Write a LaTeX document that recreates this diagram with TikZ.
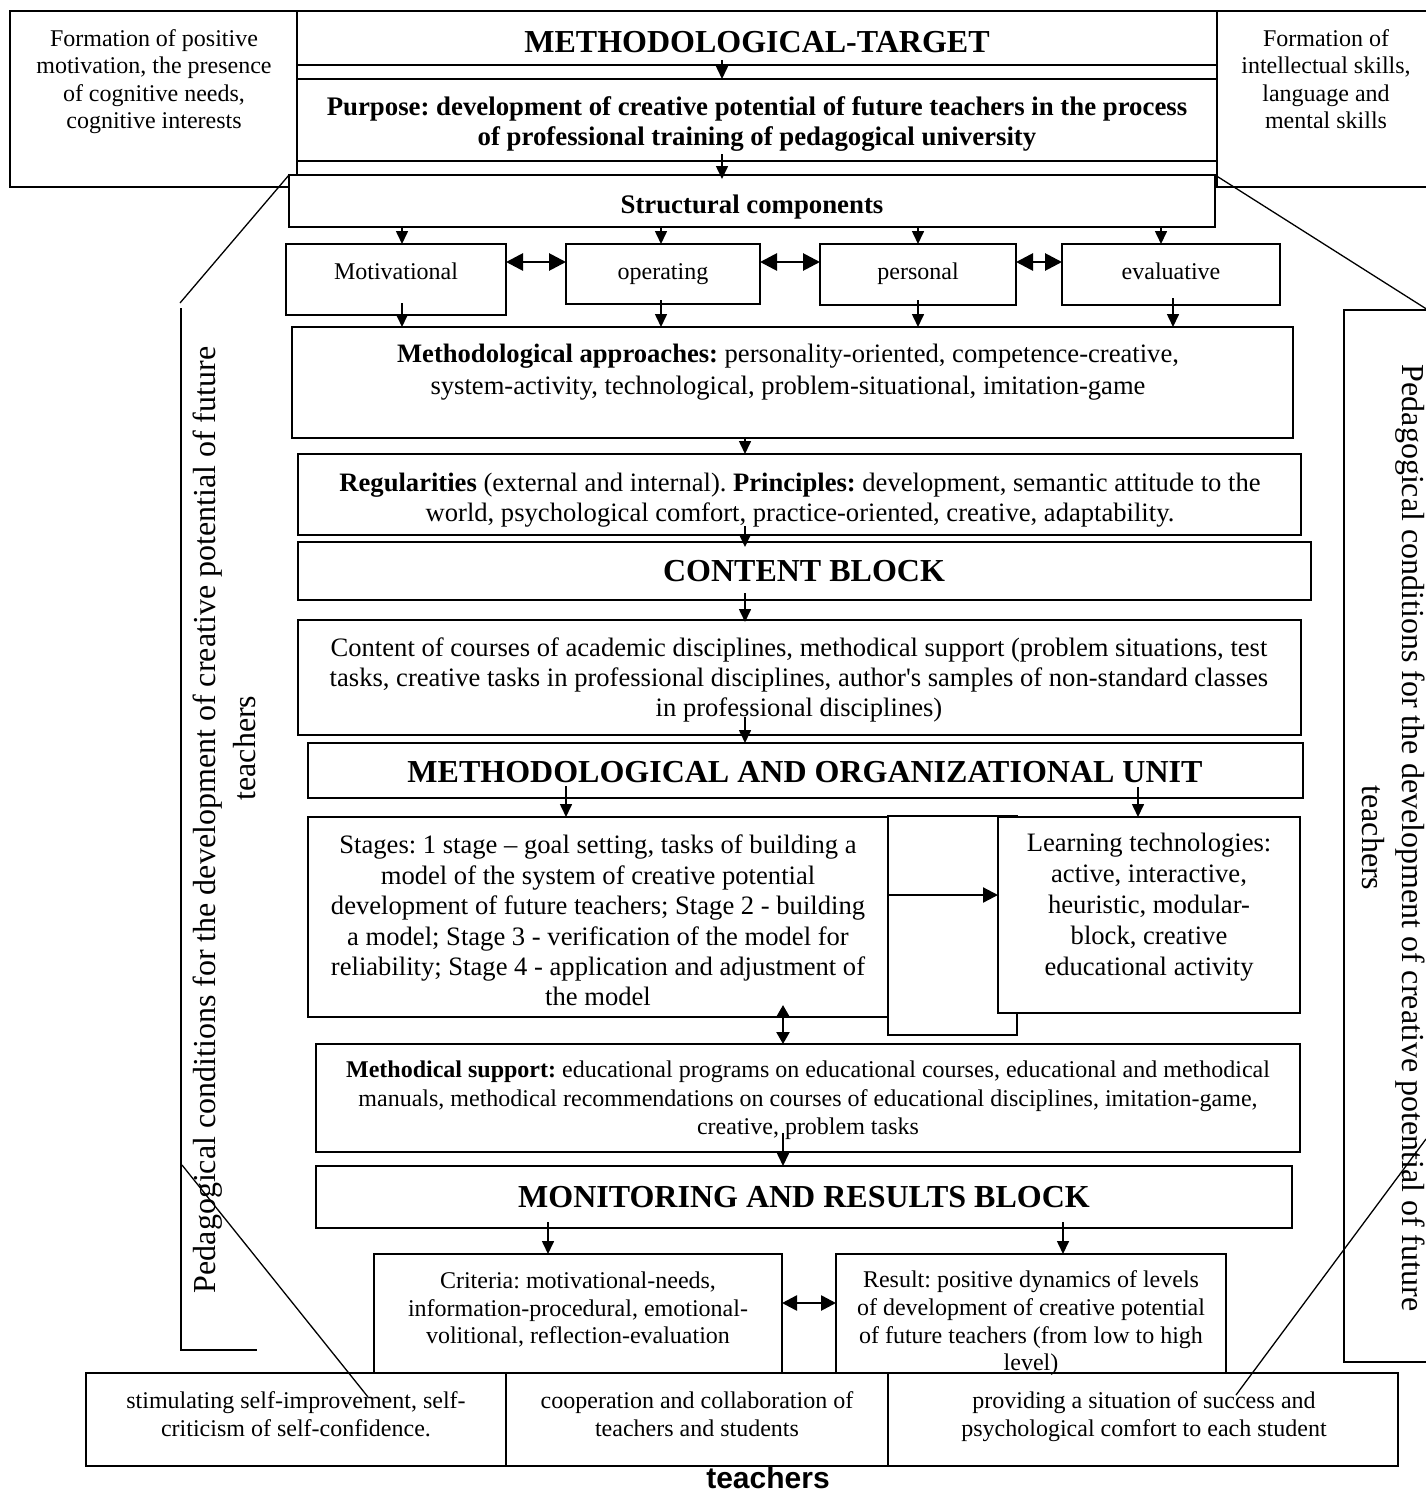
\documentclass[tikz,border=0pt]{standalone}
\usepackage{fontspec}
\setmainfont{Liberation Serif}
\newfontfamily\rawserif{Liberation Serif}[Ligatures=TeXOff]
\newfontfamily\arialfont{Liberation Sans}
\usetikzlibrary{arrows.meta,calc}
\frenchspacing
\tikzset{
  bx/.style={draw, fill=white, line width=1.6pt, inner sep=0pt, outer sep=0pt, anchor=north west},
  txt/.style={align=center, inner sep=0pt, yshift=-4pt, font=\fontsize{26.6}{30.4}\selectfont, execute at begin node=\strut, execute at end node=\strut},
  stxt/.style={align=center, inner sep=0pt, yshift=-4pt, font=\fontsize{24}{28}\selectfont, execute at begin node=\strut, execute at end node=\strut},
  ttl/.style={inner sep=0pt, font=\fontsize{32}{36}\selectfont\bfseries},
  rot/.style={inner sep=0pt, font=\fontsize{32}{37}\selectfont},
  arr/.style={-{Triangle[length=13pt,width=12pt]}, line width=1.6pt},
  dbl/.style={{Triangle[length=17pt,width=17pt]}-{Triangle[length=17pt,width=17pt]}, line width=2.8pt},
  dbs/.style={{Triangle[length=12pt,width=13pt]}-{Triangle[length=12pt,width=13pt]}, line width=2.4pt},
  dbm/.style={{Triangle[length=15pt,width=15pt]}-{Triangle[length=15pt,width=15pt]}, line width=2.6pt},
  arw/.style={-{Triangle[length=15pt,width=15pt]}, line width=2.2pt},
  ln/.style={line width=1.5pt},
  dg/.style={line width=1.3pt},
}
\begin{document}
\begin{tikzpicture}[x=1pt,y=-1pt]
\useasboundingbox (0,0) rectangle (1426,1493);

% ---------- side callouts (lines) ----------
\coordinate (slTop) at (181,308);
\coordinate (slBot) at (181,1350);
\coordinate (slEnd) at (257,1350);
\draw[ln] (slTop) -- (slBot) -- (slEnd);
\coordinate (srA) at (1428,310);
\coordinate (srB) at (1344,310);
\coordinate (srC) at (1344,1362);
\coordinate (srD) at (1428,1362);
\draw[ln] (srA) -- (srB) -- (srC) -- (srD);

% ---------- boxes ----------
\node[bx, minimum width=287pt, minimum height=176pt] (LT) at (10,11) {};
\node[bx, minimum width=212pt, minimum height=176pt] (RT) at (1217,11) {};
\node[bx, minimum width=920pt, minimum height=54pt] (MT) at (297,11) {};
\node[bx, minimum width=920pt, minimum height=82pt] (PU) at (297,79) {};
\node[bx, minimum width=926pt, minimum height=52pt] (SC) at (289,175) {};
\node[bx, minimum width=220pt, minimum height=71pt] (MO) at (286,244) {};
\node[bx, minimum width=194pt, minimum height=60pt] (OP) at (566,244) {};
\node[bx, minimum width=196pt, minimum height=61pt] (PE) at (820,244) {};
\node[bx, minimum width=218pt, minimum height=61pt] (EV) at (1062,244) {};
\node[bx, minimum width=1001pt, minimum height=111pt] (MA) at (292,327) {};
\node[bx, minimum width=1003pt, minimum height=81pt] (RG) at (298,454) {};
\node[bx, minimum width=1013pt, minimum height=58pt] (CB) at (298,542) {};
\node[bx, minimum width=1003pt, minimum height=115pt] (CT) at (298,620) {};
\node[bx, minimum width=995pt, minimum height=55pt] (MU) at (308,743) {};
\node[bx, minimum width=129pt, minimum height=219pt] (MB) at (888,816) {};
\node[bx, minimum width=580pt, minimum height=200pt] (ST) at (308,817) {};
\node[bx, minimum width=302pt, minimum height=196pt] (LG) at (998,817) {};
\node[bx, minimum width=984pt, minimum height=108pt] (MS) at (316,1044) {};
\node[bx, minimum width=976pt, minimum height=62pt] (MR) at (316,1166) {};
\node[bx, minimum width=408pt, minimum height=119pt] (CR) at (374,1254) {};
\node[bx, minimum width=390pt, minimum height=119pt] (RS) at (836,1254) {};
\node[bx, minimum width=420pt, minimum height=93pt] (B1) at (86,1373) {};
\node[bx, minimum width=382pt, minimum height=93pt] (B2) at (506,1373) {};
\node[bx, minimum width=510pt, minimum height=93pt] (B3) at (888,1373) {};

% ---------- texts ----------
\node[stxt, font=\fontsize{24}{27.4}\selectfont] (LTt) at (154,79) {Formation of positive\\motivation, the presence\\of cognitive needs,\\cognitive interests};
\node[stxt, font=\fontsize{24}{27.4}\selectfont] (RTt) at (1326,79) {Formation of\\intellectual skills,\\language and\\mental skills};
\node[ttl] (MTt) at (757,42) {METHODOLOGICAL-TARGET};
\node[txt, font=\fontsize{26.8}{30}\selectfont\bfseries] (PUt) at (757,122) {Purpose: development of creative potential of future teachers in the process\\of professional training of pedagogical university};
\node[txt, font=\fontsize{26.8}{30}\selectfont\bfseries] (SCt) at (752,203) {Structural components};
\node[stxt] (MOt) at (396,270) {Motivational};
\node[stxt] (OPt) at (663,270) {operating};
\node[stxt] (PEt) at (918,270) {personal};
\node[stxt] (EVt) at (1171,270) {evaluative};
\node[txt, font=\fontsize{26.6}{32}\selectfont] (MAt) at (788,370) {\textbf{Methodological approaches:} personality-oriented, competence-creative,\\system-activity, technological, problem-situational, imitation-game};
\node[txt, font=\fontsize{26.6}{30}\selectfont] (RGt) at (800,498) {\textbf{Regularities} (external and internal). \textbf{Principles:} development, semantic attitude to the\\world, psychological comfort, practice-oriented, creative, adaptability.};
\node[ttl] (CBt) at (804,571) {CONTENT BLOCK};
\node[txt, font=\fontsize{26.6}{30}\selectfont] (CTt) at (799,678) {Content of courses of academic disciplines, methodical support (problem situations, test\\tasks, creative tasks in professional disciplines, author{\rawserif'}s samples of non-standard classes\\in professional disciplines)};
\node[ttl] (MUt) at (805,772) {METHODOLOGICAL AND ORGANIZATIONAL UNIT};
\node[txt] (STt) at (598,921) {Stages: 1 stage – goal setting, tasks of building a\\model of the system of creative potential\\development of future teachers; Stage 2 - building\\a model; Stage 3 - verification of the model for\\reliability; Stage 4 - application and adjustment of\\the model};
\node[txt, font=\fontsize{26.6}{31}\selectfont] (LGt) at (1149,905) {Learning technologies:\\active, interactive,\\heuristic, modular-\\block, creative\\educational activity};
\node[stxt, font=\fontsize{24}{28.5}\selectfont] (MSt) at (808,1098) {\textbf{Methodical support:} educational programs on educational courses, educational and methodical\\manuals, methodical recommendations on courses of educational disciplines, imitation-game,\\creative, problem tasks};
\node[ttl] (MRt) at (804,1197) {MONITORING AND RESULTS BLOCK};
\node[stxt, font=\fontsize{24}{27.5}\selectfont] (CRt) at (578,1308) {Criteria: motivational-needs,\\information-procedural, emotional-\\volitional, reflection-evaluation};
\node[stxt, font=\fontsize{24}{27.7}\selectfont] (RSt) at (1031,1321) {Result: positive dynamics of levels\\of development of creative potential\\of future teachers (from low to high\\level)};
\node[stxt] (B1t) at (296,1414) {stimulating self-improvement, self-\\criticism of self-confidence.};
\node[stxt] (B2t) at (697,1414) {cooperation and collaboration of\\teachers and students};
\node[stxt] (B3t) at (1144,1414) {providing a situation of success and\\psychological comfort to each student};
\node[rot, rotate=90] (SLa) at (208,820) {Pedagogical conditions for the development of creative potential of future};
\node[rot, rotate=90] (SLb) at (245,748) {teachers};
\node[rot, rotate=-90] (SRa) at (1410,838) {Pedagogical conditions for the development of creative potential of future};
\node[rot, rotate=-90] (SRb) at (1373,838) {teachers};
\node[inner sep=0pt, font=\arialfont\bfseries\fontsize{30}{34}\selectfont] (BT) at (768,1478) {teachers};

% ---------- arrow positions ----------
\coordinate (a722) at (722,0);
\coordinate (a402) at (402,0);
\coordinate (a661) at (661,0);
\coordinate (a918) at (918,0);
\coordinate (a1161) at (1161,0);
\coordinate (a1173) at (1173,0);
\coordinate (a745) at (745,0);
\coordinate (a566) at (566,0);
\coordinate (a1138) at (1138,0);
\coordinate (a783) at (783,0);
\coordinate (a548) at (548,0);
\coordinate (a1063) at (1063,0);
\coordinate (r262) at (0,262);
\coordinate (r895) at (0,895);
\coordinate (r1303) at (0,1303);

% ---------- connectors ----------
\draw[arr] ($(MT.south -| a722)+(0,-5)$) -- (PU.north -| a722);
\draw[arr] ($(PU.south -| a722)+(0,-7)$) -- ($(SC.north -| a722)+(0,4)$);
\draw[arr] (SC.south -| a402) -- (MO.north -| a402);
\draw[arr] (SC.south -| a661) -- (OP.north -| a661);
\draw[arr] (SC.south -| a918) -- (PE.north -| a918);
\draw[arr] (SC.south -| a1161) -- (EV.north -| a1161);
\draw[dbl] (MO.east |- r262) -- (OP.west |- r262);
\draw[dbl] (OP.east |- r262) -- (PE.west |- r262);
\draw[dbl] (PE.east |- r262) -- (EV.west |- r262);
\draw[arr] ($(MO.south -| a402)+(0,-12)$) -- (MA.north -| a402);
\draw[arr] ($(OP.south -| a661)+(0,-4)$) -- (MA.north -| a661);
\draw[arr] ($(PE.south -| a918)+(0,-5)$) -- (MA.north -| a918);
\draw[arr] ($(EV.south -| a1173)+(0,-7)$) -- (MA.north -| a1173);
\draw[arr] (MA.south -| a745) -- (RG.north -| a745);
\draw[arr] ($(RG.south -| a745)+(0,-9)$) -- ($(CB.north -| a745)+(0,5)$);
\draw[arr] ($(CB.south -| a745)+(0,-7)$) -- ($(CT.north -| a745)+(0,2)$);
\draw[arr] ($(CT.south -| a745)+(0,-18)$) -- (MU.north -| a745);
\draw[arr] ($(MU.south -| a566)+(0,-12)$) -- (ST.north -| a566);
\draw[arr] ($(MU.south -| a1138)+(0,-11)$) -- (LG.north -| a1138);
\draw[arw] (ST.east |- r895) -- (LG.west |- r895);
\draw[dbs] ($(ST.south -| a783)+(0,-12)$) -- (MS.north -| a783);
\draw[arr] ($(MS.south -| a783)+(0,-19)$) -- (MR.north -| a783);
\draw[arr] ($(MR.south -| a548)+(0,-6)$) -- (CR.north -| a548);
\draw[arr] ($(MR.south -| a1063)+(0,-6)$) -- (RS.north -| a1063);
\draw[dbm] (CR.east |- r1303) -- (RS.west |- r1303);

% ---------- diagonal lines ----------
\coordinate (dgA) at (180,303);
\coordinate (dgB) at (182,1165);
\coordinate (dgC) at (368,1397);
\coordinate (dgD) at (1426,1139);
\coordinate (dgE) at (1236,1395);
\draw[dg] (SC.north west) -- (dgA);
\draw[dg] (SC.north east) -- (srA);
\draw[dg] (dgB) -- (dgC);
\draw[dg] (dgD) -- (dgE);
\end{tikzpicture}
\end{document}
